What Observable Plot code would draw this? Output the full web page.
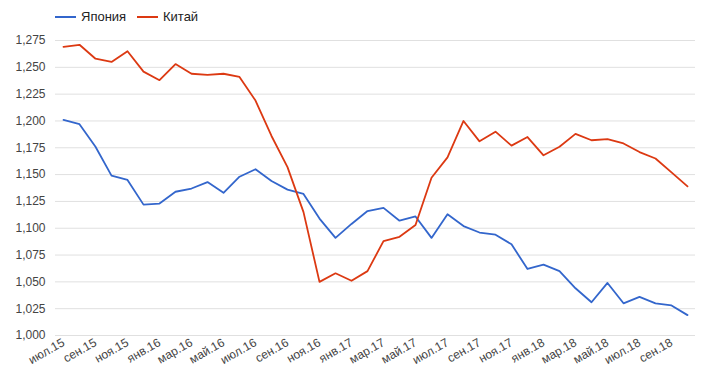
<!DOCTYPE html>
<html>
<head>
<meta charset="utf-8">
<script src="https://cdn.jsdelivr.net/npm/d3@7"></script>
<script src="https://cdn.jsdelivr.net/npm/@observablehq/plot@0.6"></script>
<style>
  body { margin: 0; background: #fff; font-family: Arial, "Liberation Sans", sans-serif; }
  #legend { height: 30px; position: relative; font-size: 13px; color: #222; }
  .item { position: absolute; top: 9px; display: flex; align-items: center; }
  .sw { width: 21px; height: 2px; margin-right: 5px; }
</style>
</head>
<body>
<div id="legend"></div>
<div id="chart"></div>
<script>
const months = ["июл.15","авг.15","сен.15","окт.15","ноя.15","дек.15",
  "янв.16","фев.16","мар.16","апр.16","май.16","июн.16",
  "июл.16","авг.16","сен.16","окт.16","ноя.16","дек.16",
  "янв.17","фев.17","мар.17","апр.17","май.17","июн.17",
  "июл.17","авг.17","сен.17","окт.17","ноя.17","дек.17",
  "янв.18","фев.18","мар.18","апр.18","май.18","июн.18",
  "июл.18","авг.18","сен.18","окт.18"];
const japan = [1201,1197,1176,1149,1145,1122,1123,1134,1137,1143,1133,1148,1155,1144,1136,1132,1109,1091,1104,1116,1119,1107,1111,1091,1113,1102,1096,1094,1085,1062,1066,1060,1044,1031,1049,1030,1036,1030,1028,1019];
const china = [1269,1271,1258,1255,1265,1246,1238,1253,1244,1243,1244,1241,1219,1186,1157,1115,1050,1058,1051,1060,1088,1092,1103,1147,1166,1200,1181,1190,1177,1185,1168,1176,1188,1182,1183,1179,1171,1165,1152,1139];
const tickLabels = ["июл.15","сен.15","ноя.15","янв.16","мар.16","май.16","июл.16","сен.16","ноя.16","янв.17","мар.17","май.17","июл.17","сен.17","ноя.17","янв.18","мар.18","май.18","июл.18","сен.18"];
const yTicks = [1000,1025,1050,1075,1100,1125,1150,1175,1200,1225,1250,1275];
const seriesNames = ["Япония","Китай"];
const colors = ["#3366cc","#dc3912"];

const data = [];
months.forEach((m, i) => {
  data.push({month: m, value: japan[i], series: seriesNames[0]});
});
months.forEach((m, i) => {
  data.push({month: m, value: china[i], series: seriesNames[1]});
});

// legend
const legend = document.getElementById("legend");
const legendX = [55, 137];
seriesNames.forEach((s, i) => {
  const d = document.createElement("div");
  d.className = "item";
  d.style.left = legendX[i] + "px";
  d.innerHTML = `<div class="sw" style="background:${colors[i]}"></div><span>${s}</span>`;
  legend.appendChild(d);
});

const chart = Plot.plot({
  width: 709,
  height: 349,
  marginLeft: 55,
  marginRight: 14,
  marginTop: 10,
  marginBottom: 44,
  style: {fontFamily: "Arial, 'Liberation Sans', sans-serif", fontSize: "12px", color: "#444", background: "#fff"},
  x: {type: "point", domain: months, padding: 0.5},
  y: {domain: [1000, 1275]},
  color: {domain: seriesNames, range: colors},
  marks: [
    Plot.gridY(yTicks, {stroke: "#e0e0e0", strokeOpacity: 1, strokeWidth: 1}),
    Plot.axisY(yTicks, {tickSize: 0, tickPadding: 10, tickFormat: d3.format(","), fill: "#444", label: null}),
    Plot.axisX(tickLabels, {tickSize: 0, tickPadding: 6, tickRotate: -30, fill: "#444", label: null}),
    Plot.line(data, {x: "month", y: "value", z: "series", stroke: "series", strokeWidth: 1.8, curve: "linear"})
  ]
});
document.getElementById("chart").appendChild(chart);
</script>
</body>
</html>
